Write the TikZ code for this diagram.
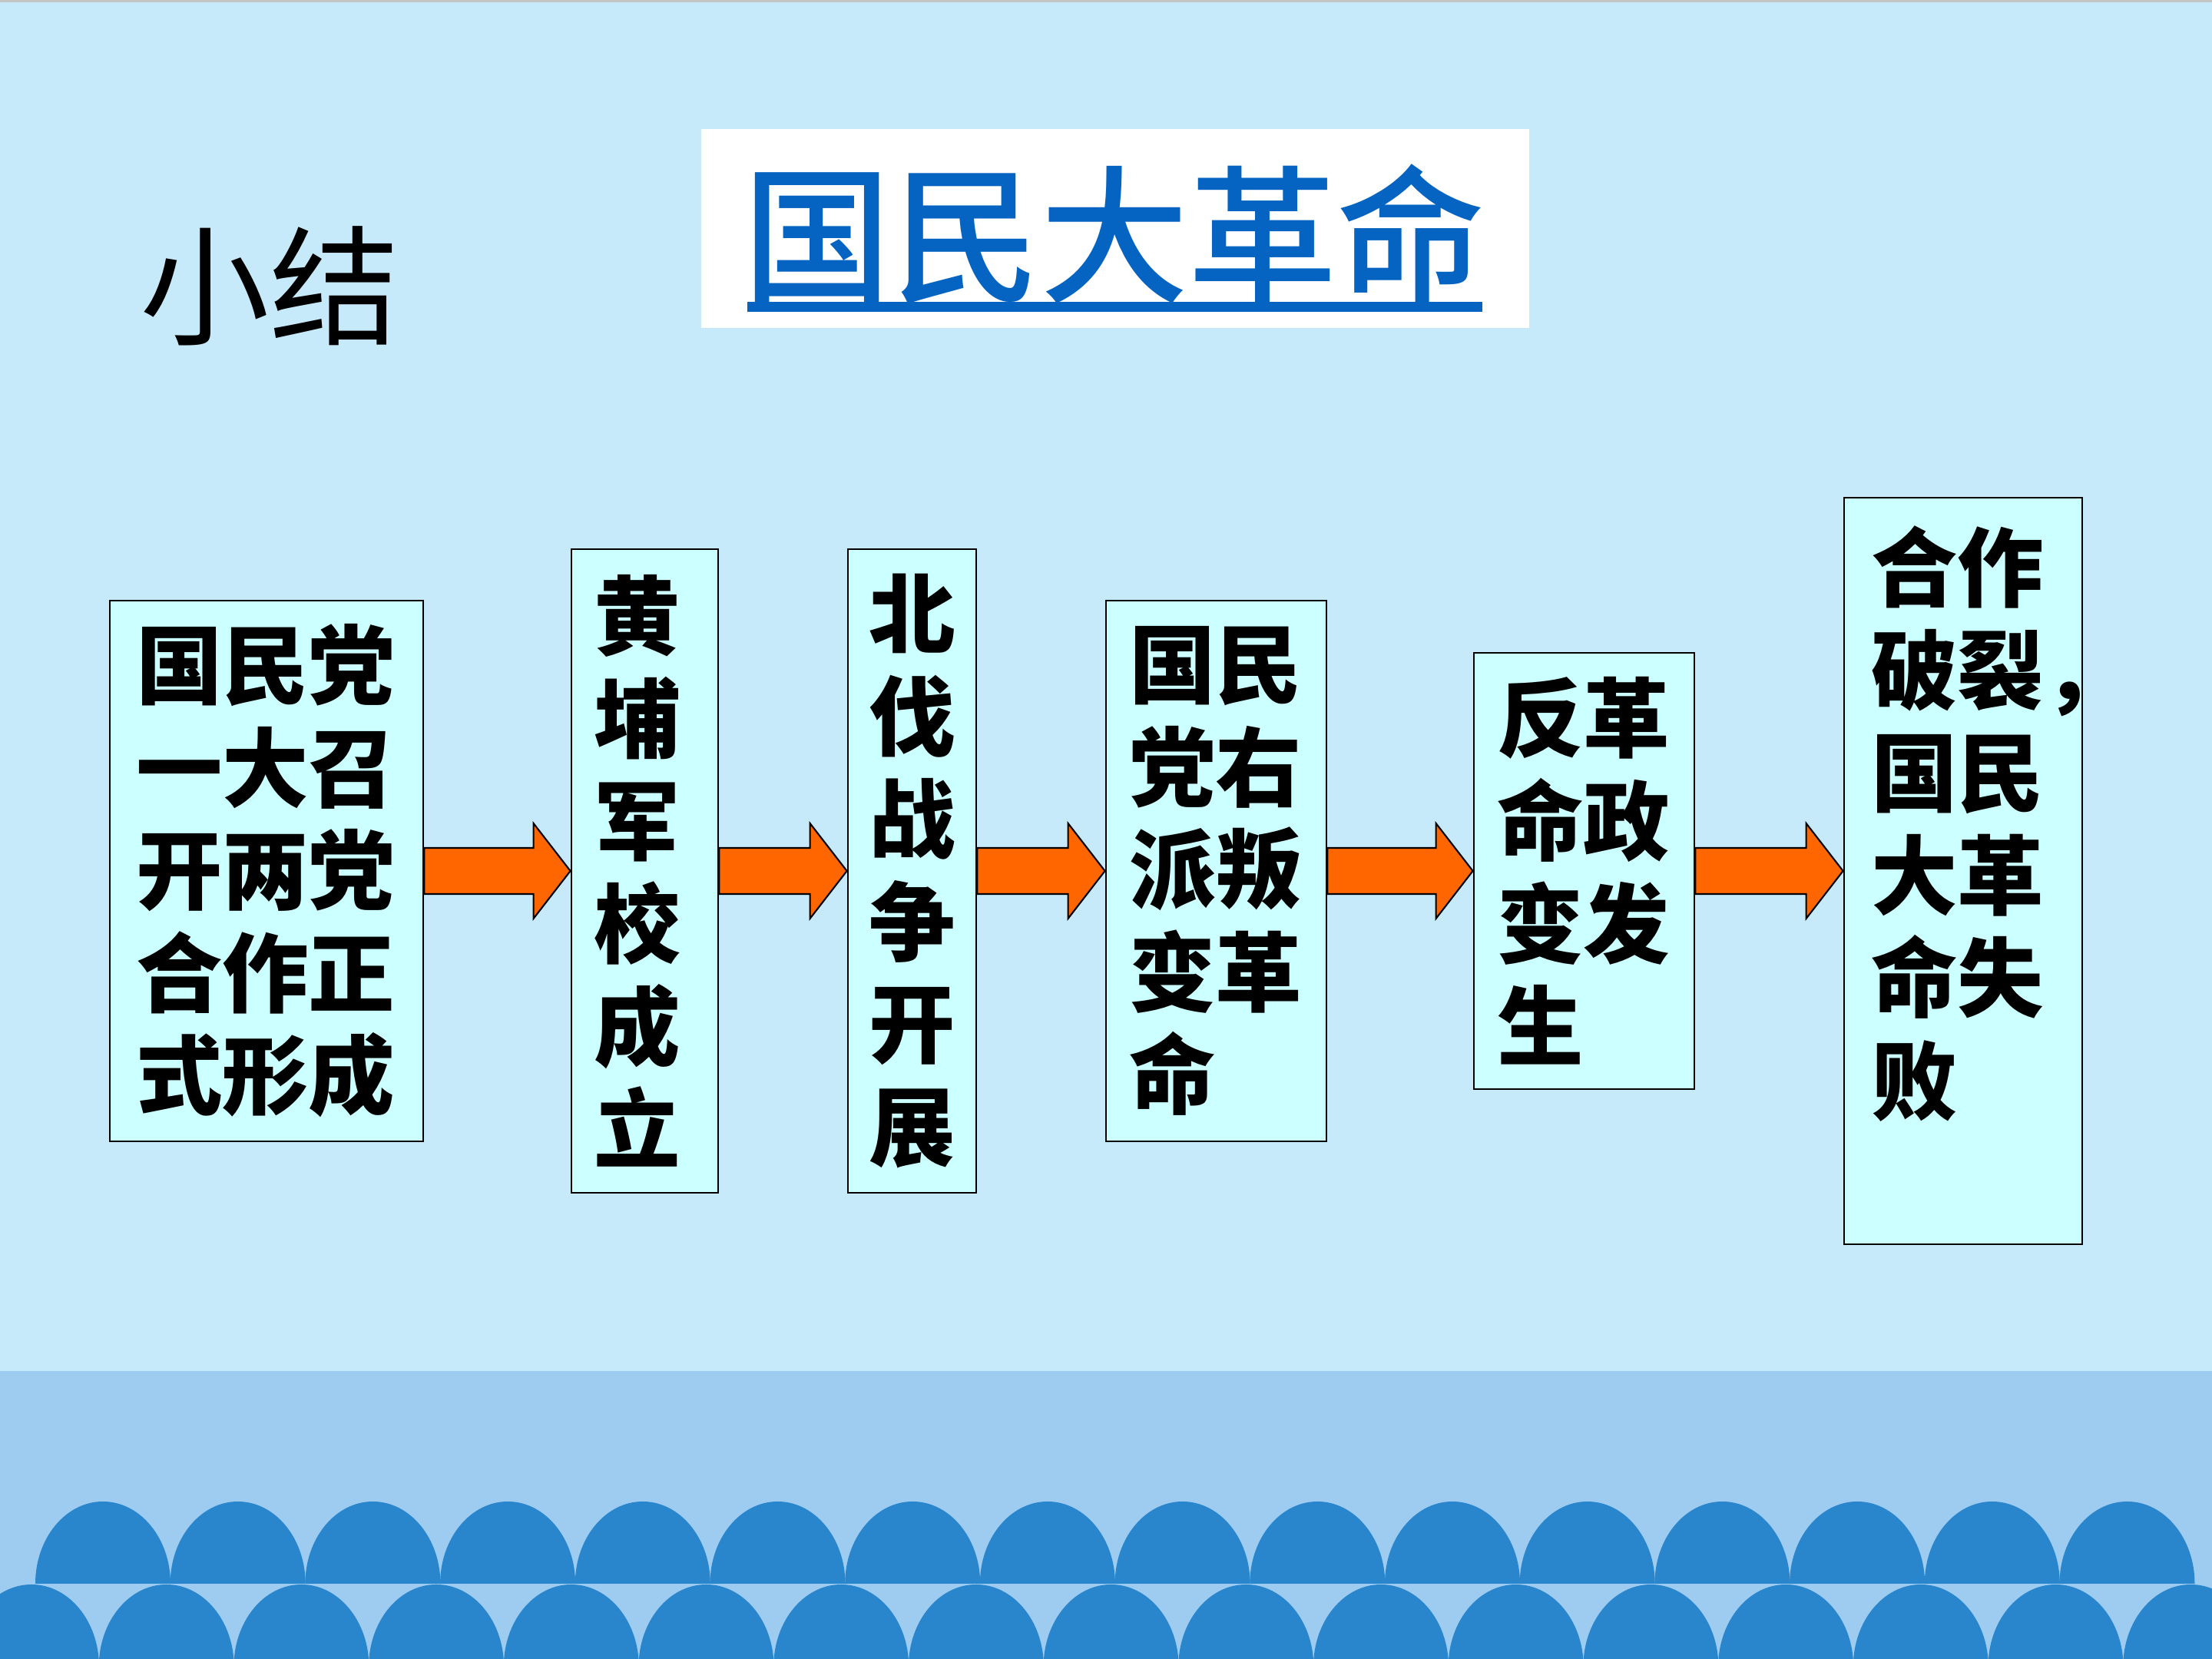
\documentclass[tikz,border=0pt]{standalone}
\usepackage{fontspec}
\newfontfamily\cjk{Noto Sans CJK SC}
\newfontfamily\cjkmedium{Noto Sans CJK SC Medium}
\usetikzlibrary{calc}
\definecolor{skyblue}{HTML}{C7EAFB}
\definecolor{bandblue}{HTML}{9ECBF0}
\definecolor{waveblue}{HTML}{2A86CC}
\definecolor{topgray}{HTML}{C4C4C4}
\definecolor{boxcyan}{HTML}{CCFFFF}
\definecolor{arroworange}{HTML}{FF6600}
\definecolor{titleblue}{HTML}{0563C1}
\tikzset{
  stagebox/.style={draw=black,line width=0.8pt,fill=boxcyan,inner sep=0pt,
    font=\cjk\bfseries\fontsize{32}{38}\selectfont},
  flowarrow/.style={draw=black,line width=0.6pt,fill=arroworange,line join=miter},
}

\begin{document}
\begin{tikzpicture}[x=1cm,y=1cm]
\useasboundingbox (0,0) rectangle (28.8,21.6);
\clip (0,0) rectangle (28.8,21.6);
\fill[skyblue] (0,0) rectangle (28.8,21.6);
\fill[topgray] (0,21.57) rectangle (28.8,21.6);
\fill[bandblue] (0,0) rectangle (28.8,3.75);
\foreach \k in {0,...,15}{
  \fill[waveblue] ({1.34+1.757*\k-0.88},0.98) arc[start angle=180,end angle=0,x radius=0.88,y radius=1.07] -- cycle;
}
\foreach \k in {0,...,16}{
  \fill[waveblue] ({0.41+1.757*\k-0.88},-0.10) arc[start angle=180,end angle=0,x radius=0.88,y radius=1.07] -- cycle;
}

\node[font=\cjk\fontsize{48}{52}\selectfont,inner sep=0pt] (summary) at (3.51,17.88) {小结};

\node[fill=white,minimum width=10.78cm,minimum height=2.59cm,inner sep=0pt] (titlebox) at (14.52,18.625) {};
\node[font=\cjkmedium\fontsize{55}{60}\selectfont,text=titleblue,inner sep=0pt] (title) at (14.51,18.55) {国民大革命};
\fill[titleblue] (9.73,17.54) rectangle (19.30,17.67);

\node[stagebox,minimum width=4.08cm,minimum height=7.04cm,text width=3.40cm,align=left] (b1) at (3.47,10.26)
  {国民党\\一大召\\开两党\\合作正\\式形成};
\node[stagebox,minimum width=1.91cm,minimum height=8.38cm,text width=1.13cm,align=center] (b2) at (8.395,10.26)
  {\hspace*{-0.2cm}黄\\\hspace*{-0.2cm}埔\\\hspace*{-0.2cm}军\\\hspace*{-0.2cm}校\\\hspace*{-0.2cm}成\\\hspace*{-0.2cm}立};
\node[stagebox,minimum width=1.67cm,minimum height=8.38cm,text width=1.13cm,align=center] (b3) at (11.875,10.26)
  {北\\伐\\战\\争\\开\\展};
\node[stagebox,minimum width=2.87cm,minimum height=7.04cm,text width=2.27cm,align=left] (b4) at (15.835,10.26)
  {国民\\党右\\派叛\\变革\\命};
\node[stagebox,minimum width=2.87cm,minimum height=5.68cm,text width=2.27cm,align=left] (b5) at (20.625,10.26)
  {反革\\命政\\变发\\生};
\node[stagebox,minimum width=3.10cm,minimum height=9.72cm,text width=2.40cm,align=left] (b6) at (25.56,10.26)
  {合作\\破裂，\\国民\\大革\\命失\\败\\\mbox{}};

\foreach \from/\to in {b1/b2,b2/b3,b3/b4,b4/b5,b5/b6}{
  \draw[flowarrow] ($(\from.east)+(0,0.3)$) -- ($(\to.west)+(-0.48,0.3)$) -- ($(\to.west)+(-0.48,0.62)$)
    -- (\to.west) -- ($(\to.west)+(-0.48,-0.62)$) -- ($(\to.west)+(-0.48,-0.3)$) -- ($(\from.east)+(0,-0.3)$) -- cycle;
}
\end{tikzpicture}
\end{document}
